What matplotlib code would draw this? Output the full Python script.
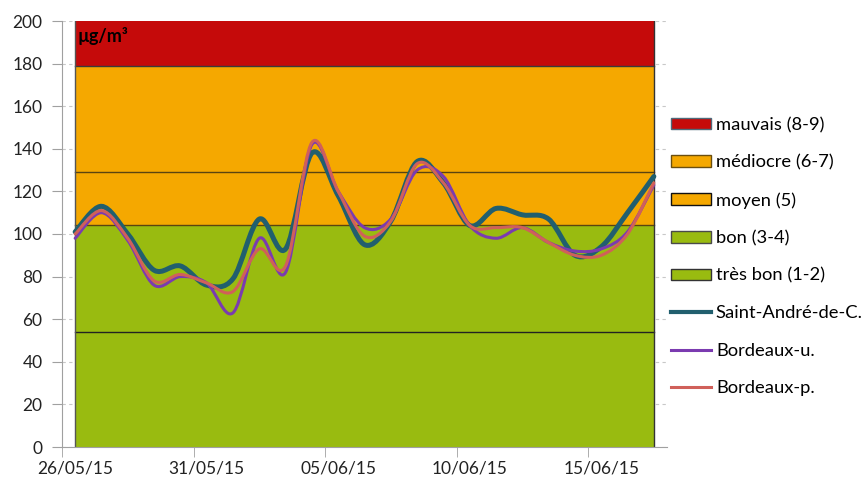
import numpy as np
import matplotlib
matplotlib.use('Agg')
import matplotlib.pyplot as plt
from matplotlib.path import Path
from matplotlib.patches import PathPatch, Patch
from matplotlib.lines import Line2D

# daily values, 26/05/15 -> 17/06/15
saint_andre = [101, 113, 100, 83, 85, 76, 79, 107, 93, 138, 118, 95, 106, 134, 124,
               104, 112, 109, 107, 90, 94, 110, 127]
bordeaux_u = [98, 110, 97, 76, 80, 77, 63, 98, 82, 142, 120, 103, 107, 130, 127,
              104, 98, 103, 96, 92, 93, 101, 123]
bordeaux_p = [100, 111, 98, 78, 81, 77, 73, 93, 85, 143, 120, 99, 106, 133, 124,
              104, 103, 103, 96, 90, 90, 100, 124]
series_names = ['Saint-André-de-C.', 'Bordeaux-u.', 'Bordeaux-p.']
series_colors = ['#215F6E', '#7B3BB0', '#D0605A']
series_widths = [3.6, 2.2, 2.2]

date_labels = ['26/05/15', '31/05/15', '05/06/15', '10/06/15', '15/06/15']
band_names = ['très bon (1-2)', 'bon (3-4)', 'moyen (5)', 'médiocre (6-7)', 'mauvais (8-9)']
band_limits = [0, 54, 104, 129, 179, 200]
band_colors = ['#99BB10', '#99BB10', '#F5A800', '#F5A800', '#C50A0A']
band_edges = ['#333333', '#4a4a4a', '#111111', '#6b4f10', '#4F6A7A']

plt.rcParams['font.family'] = ['Lato', 'DejaVu Sans']

fig = plt.figure(figsize=(8.65, 4.84), dpi=100)
ax = fig.add_axes([62 / 865, 1 - 447 / 484, (667 - 62) / 865, (447 - 21) / 484])

n = len(saint_andre)
days = np.arange(n)

# quality bands
for i in range(5):
    ax.fill_between([0, n - 1], band_limits[i], band_limits[i + 1],
                    color=band_colors[i], lw=0, zorder=1)
for y, c in zip(band_limits[1:-1], ['#222222', '#5a4410', '#5a4410', '#3a3a3a']):
    ax.plot([0, n - 1], [y, y], color=c, lw=1, zorder=2)
ax.plot([0, 0], [0, 200], color='#555555', lw=1, zorder=2)
ax.plot([n - 1, n - 1], [0, 200], color='#333333', lw=1, zorder=2)


def smooth_path(x, y):
    pts = np.column_stack([x, y]).astype(float)
    ext = np.vstack([pts[0], pts, pts[-1]])
    verts = [pts[0]]
    codes = [Path.MOVETO]
    for i in range(len(pts) - 1):
        p0, p1, p2, p3 = ext[i], ext[i + 1], ext[i + 2], ext[i + 3]
        verts += [p1 + (p2 - p0) / 6, p2 - (p3 - p1) / 6, p2]
        codes += [Path.CURVE4] * 3
    return Path(verts, codes)


for vals, c, w in zip([saint_andre, bordeaux_u, bordeaux_p], series_colors, series_widths):
    ax.add_patch(PathPatch(smooth_path(days, vals), fill=False, edgecolor=c, lw=w,
                           capstyle='round', joinstyle='round', zorder=3))

ax.text(0.1, 197, 'µg/m³', fontsize=13, fontweight='bold', va='top', ha='left', zorder=4)

ax.set_xlim(-0.5, n - 0.5)
ax.set_ylim(0, 200)
ax.set_yticks(range(0, 201, 20))
ax.tick_params(axis='y', length=7, color='#A0A0A0', labelsize=12.5, pad=7, labelcolor='#222222')
ax.set_xticks(np.arange(0, n, 5))
ax.set_xticklabels(date_labels)
ax.set_xticks(np.arange(-0.5, n, 5), minor=True)
ax.tick_params(axis='x', which='major', length=0, labelsize=12.5, pad=10, labelcolor='#222222')
ax.tick_params(axis='x', which='minor', length=7, color='#A0A0A0')
ax.grid(axis='y', color='#C8C8C8', ls=(0, (3, 3)), lw=0.8, zorder=0)
ax.set_axisbelow(True)
for s in ['top', 'right']:
    ax.spines[s].set_visible(False)
for s in ['left', 'bottom']:
    ax.spines[s].set_color('#A0A0A0')

handles = []
for i in range(4, -1, -1):
    handles.append(Patch(facecolor=band_colors[i], edgecolor=band_edges[i], lw=1, label=band_names[i]))
for name, c, w in zip(series_names, series_colors, [3, 2.2, 2.2]):
    handles.append(Line2D([0], [0], color=c, lw=w, label=name))
fig.legend(handles=handles, loc='upper left', bbox_to_anchor=(671 / 865, 1 - 117 / 484),
           frameon=False, fontsize=13.2, borderpad=0, borderaxespad=0,
           handlelength=2.18, handleheight=0.6, handletextpad=0.27, labelspacing=1.17)

fig.savefig('out.png', dpi=100)
